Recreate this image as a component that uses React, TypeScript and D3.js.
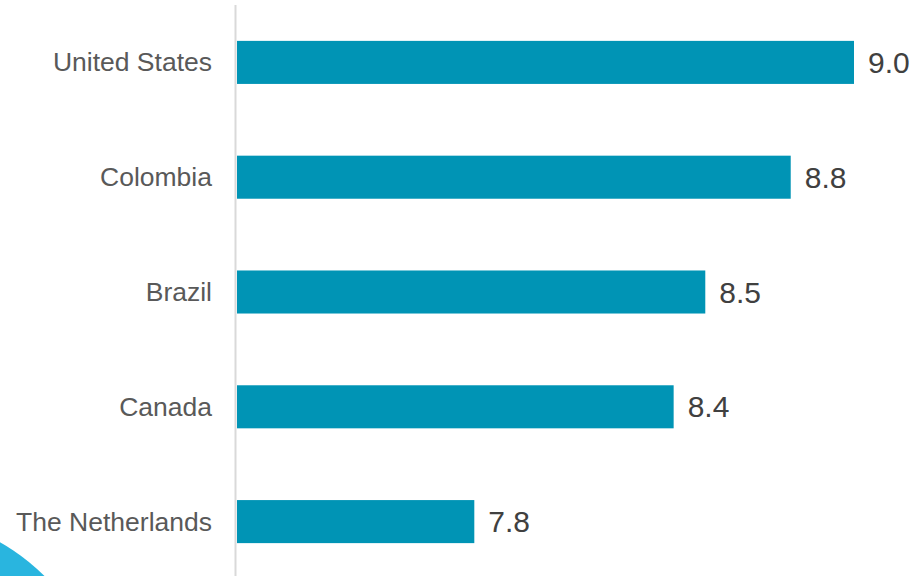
import React from "react";
import * as d3 from "d3";

const categories = ["United States", "Colombia", "Brazil", "Canada", "The Netherlands"];
const values = [9.0, 8.8, 8.53, 8.43, 7.8];
const xDomain = [7.05, 9.0];

const W = 918;
const H = 576;

export default function App() {
  const x = d3.scaleLinear().domain(xDomain).range([237, 854]);
  const y = d3
    .scaleBand<string>()
    .domain(categories)
    .range([5, 579])
    .paddingInner(0.625)
    .paddingOuter(0.3125);
  const font = "'Liberation Sans', Arial, sans-serif";
  return (
    <svg
      width={W}
      height={H}
      style={{ position: "absolute", left: 0, top: 0, background: "#fff" }}
    >
      <circle cx={-100} cy={720} r={204} fill="#29b5df" />
      {categories.map((c, i) => {
        const yy = y(c)!;
        const bw = y.bandwidth();
        return (
          <g key={c}>
            <rect x={x(xDomain[0])} y={yy} width={x(values[i]) - x(xDomain[0])} height={bw} fill="#0094b5" />
            <text
              x={212}
              y={yy + bw / 2}
              textAnchor="end"
              dominantBaseline="central"
              fontFamily={font}
              fontSize={26.5}
              fill="#595959"
            >
              {c}
            </text>
            <text
              x={x(values[i]) + 14}
              y={yy + bw / 2}
              dominantBaseline="central"
              fontFamily={font}
              fontSize={30}
              fill="#404040"
            >
              {values[i].toFixed(1)}
            </text>
          </g>
        );
      })}
      <line x1={235.5} x2={235.5} y1={5} y2={576} stroke="#d9d9d9" strokeWidth={2} />
    </svg>
  );
}
